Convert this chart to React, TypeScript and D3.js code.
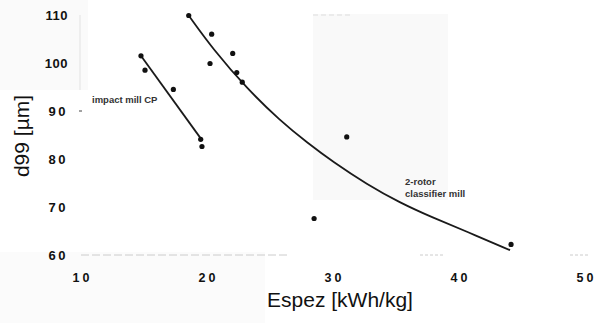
import * as d3 from "d3";
import { useRef, useEffect } from "react";

// measured points (x = specific energy kWh/kg, y = d99 µm)
const impactX = [14.76, 15.08, 17.33, 19.5, 19.6];
const impactY = [101.5, 98.5, 94.5, 84.1, 82.6];
const rotorX = [18.55, 20.37, 20.24, 22.04, 22.36, 22.8, 31.09, 28.5, 44.13];
const rotorY = [109.9, 106.0, 99.9, 102.0, 98.0, 96.0, 84.6, 67.6, 62.2];

// fitted lines
const impactFitX = [14.7, 19.5];
const impactFitY = [101.7, 84.3];
const rotorFitX = [18.55, 20.5, 23.2, 25.8, 28.0, 30.0, 32.7, 35.3, 37.9, 40.6, 44.05];
const rotorFitY = [109.9, 102.8, 94.6, 88.0, 83.3, 79.4, 74.7, 70.9, 67.8, 64.9, 61.0];

const xTicks = [10, 20, 30, 40, 50];
const yTicks = [60, 70, 80, 90, 100, 110];

export default function App() {
  const width = 605;
  const height = 323;

  const x = d3.scaleLinear().domain([10, 50]).range([81, 585]);
  const y = d3.scaleLinear().domain([60, 110]).range([255, 15]);

  const lineRef = useRef<SVGGElement>(null);

  useEffect(() => {
    if (!lineRef.current) return;
    const g = d3.select(lineRef.current);
    g.selectAll("*").remove();
    const straight = d3
      .line<number>()
      .x((_, i) => x(impactFitX[i]))
      .y((d) => y(d));
    const curved = d3
      .line<number>()
      .x((_, i) => x(rotorFitX[i]))
      .y((d) => y(d))
      .curve(d3.curveBasis);
    g.append("path")
      .attr("d", straight(impactFitY))
      .attr("fill", "none")
      .attr("stroke", "#1a1a1a")
      .attr("stroke-width", 1.8);
    g.append("path")
      .attr("d", curved(rotorFitY))
      .attr("fill", "none")
      .attr("stroke", "#1a1a1a")
      .attr("stroke-width", 1.8);
  }, []);

  const font = "Arial, 'Liberation Sans', Helvetica, sans-serif";

  return (
    <div style={{ position: "fixed", left: 0, top: 0 }}>
      <svg width={width} height={height} style={{ display: "block", background: "#fff" }}>
        {/* scan shading */}
        <rect x={0} y={0} width={88} height={90} fill="#fafafa" />
        <rect x={0} y={252} width={265} height={71} fill="#fbfbfb" />
        <rect x={313} y={14} width={135} height={186} fill="#f9f9f9" />

        {/* faint frame */}
        <line x1={80} x2={80} y1={15} y2={90} stroke="#e2e2e2" />
        <line x1={81} x2={290} y1={y(60)} y2={y(60)} stroke="#ccc" strokeDasharray="8 3" />
        <line x1={420} x2={445} y1={y(60)} y2={y(60)} stroke="#ccc" strokeDasharray="3 2" />
        <line x1={570} x2={588} y1={y(60)} y2={y(60)} stroke="#ccc" strokeDasharray="3 2" />
        <line x1={313} x2={350} y1={y(110)} y2={y(110)} stroke="#ddd" strokeDasharray="5 3" />

        {/* y axis ticks */}
        {yTicks.map((t) => (
          <g key={t}>
            <text
              x={68}
              y={y(t)}
              dy="0.35em"
              textAnchor="end"
              fontFamily={font}
              fontWeight="bold"
              fontSize={13}
              letterSpacing={t >= 100 ? 0.5 : 2.5}
              fill="#111"
            >
              {t}
            </text>
            {t === 90 && <line x1={79} x2={82} y1={y(t)} y2={y(t)} stroke="#444" />}
          </g>
        ))}

        {/* x axis ticks */}
        {xTicks.map((t) => (
          <text
            key={t}
            x={x(t) + 1.5}
            y={282}
            textAnchor="middle"
            fontFamily={font}
            fontWeight="bold"
            fontSize={12.5}
            letterSpacing={3}
            fill="#111"
          >
            {t}
          </text>
        ))}

        {/* axis titles */}
        <text
          x={340}
          y={307}
          textAnchor="middle"
          fontFamily={font}
          fontSize={21}
          fill="#111"
        >
          Espez [kWh/kg]
        </text>
        <text
          transform="translate(29,136) rotate(-90)"
          textAnchor="middle"
          fontFamily={font}
          fontSize={21}
          fill="#111"
        >
          d99 [µm]
        </text>

        <g ref={lineRef} />

        {impactX.map((d, i) => (
          <circle key={"a" + i} cx={x(d)} cy={y(impactY[i])} r={2.6} fill="#111" />
        ))}
        {rotorX.map((d, i) => (
          <circle key={"b" + i} cx={x(d)} cy={y(rotorY[i])} r={2.6} fill="#111" />
        ))}

        {/* annotations */}
        <text x={92} y={103} fontFamily={font} fontSize={9.5} fontWeight="bold" fill="#333">
          impact mill CP
        </text>
        <text x={405} y={185} fontFamily={font} fontSize={9.5} fontWeight="bold" fill="#333">
          2-rotor
        </text>
        <text x={405} y={197} fontFamily={font} fontSize={9.5} fontWeight="bold" fill="#333">
          classifier mill
        </text>
      </svg>
    </div>
  );
}
